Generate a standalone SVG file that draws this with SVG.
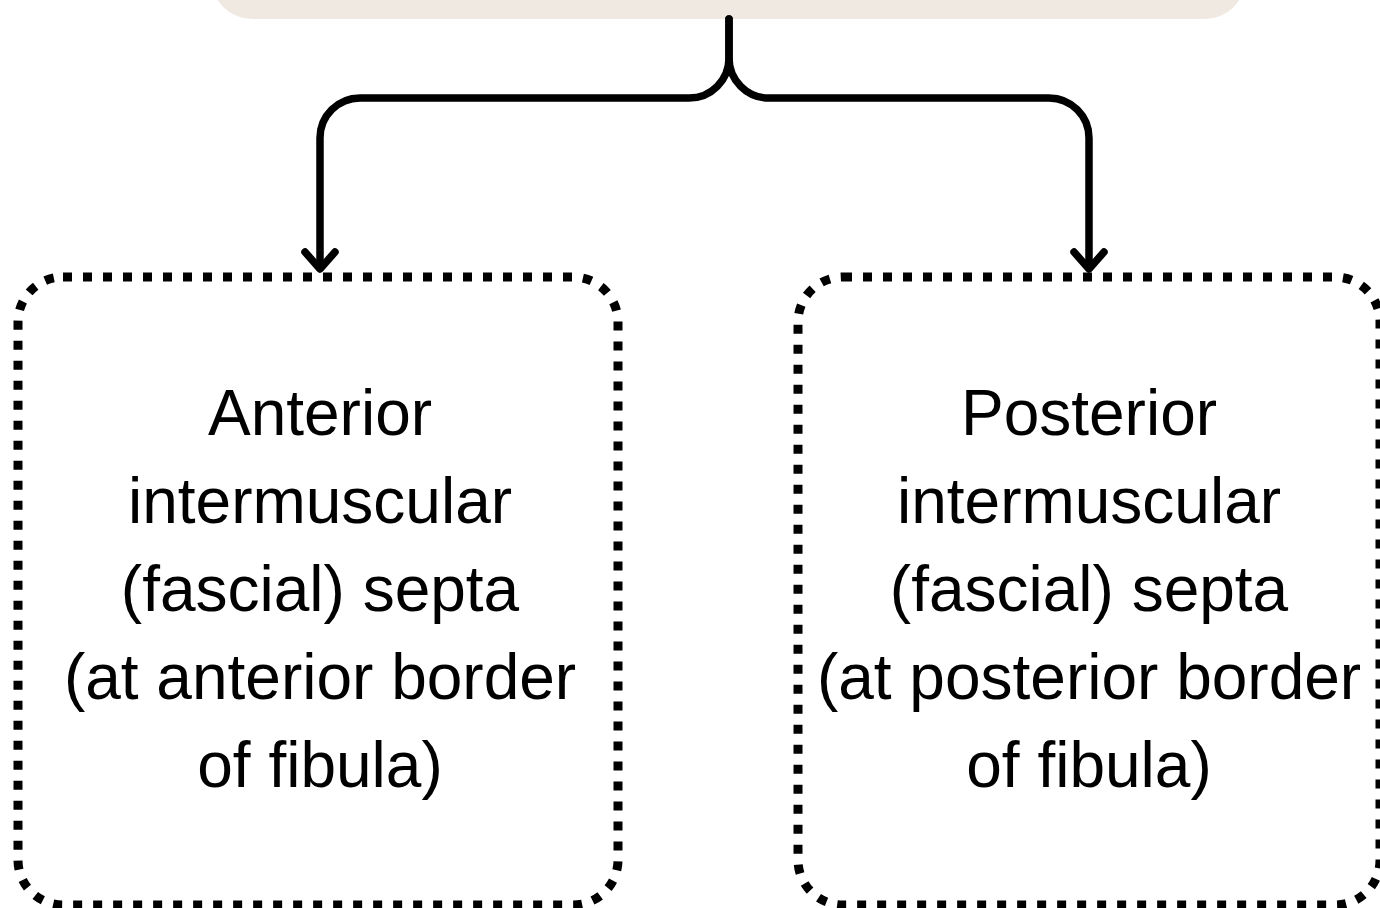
<svg xmlns="http://www.w3.org/2000/svg" width="1380" height="908" viewBox="0 0 1380 908">
<style>
.box{fill:none;stroke:#000;stroke-width:9;stroke-dasharray:9 11}
.lbl{font-family:"Liberation Sans",Arial,sans-serif;font-size:64px;fill:#000;text-anchor:middle}
.conn{fill:none;stroke:#000;stroke-width:7.5;stroke-linecap:round;stroke-linejoin:round}
</style>
<rect width="1380" height="908" fill="#fff"/>
<g id="top">
<rect x="212" y="-60" width="1033" height="79" rx="40" fill="#F0E9E2"/>
</g>
<g id="connectors">
<path class="conn" d="M729,19 V58 A40,40 0 0 1 689,98 H360 A40,40 0 0 0 320,138 V268"/>
<path class="conn" d="M729,19 V58 A40,40 0 0 0 769,98 H1049 A40,40 0 0 1 1089,138 V268"/>
<polyline class="conn" points="305,252 320,269 335,252"/>
<polyline class="conn" points="1074,252 1089,269 1104,252"/>
</g>
<g id="anterior">
<rect class="box" x="18" y="277" width="600" height="628" rx="45"/>
<text class="lbl" x="320" y="435">Anterior</text>
<text class="lbl" x="320" y="523">intermuscular</text>
<text class="lbl" x="320" y="611">(fascial) septa</text>
<text class="lbl" x="320" y="699">(at anterior border</text>
<text class="lbl" x="320" y="787">of fibula)</text>
</g>
<g id="posterior">
<rect class="box" x="798" y="277" width="582" height="628" rx="45"/>
<text class="lbl" x="1089" y="435">Posterior</text>
<text class="lbl" x="1089" y="523">intermuscular</text>
<text class="lbl" x="1089" y="611">(fascial) septa</text>
<text class="lbl" x="1089" y="699">(at posterior border</text>
<text class="lbl" x="1089" y="787">of fibula)</text>
</g>
</svg>
